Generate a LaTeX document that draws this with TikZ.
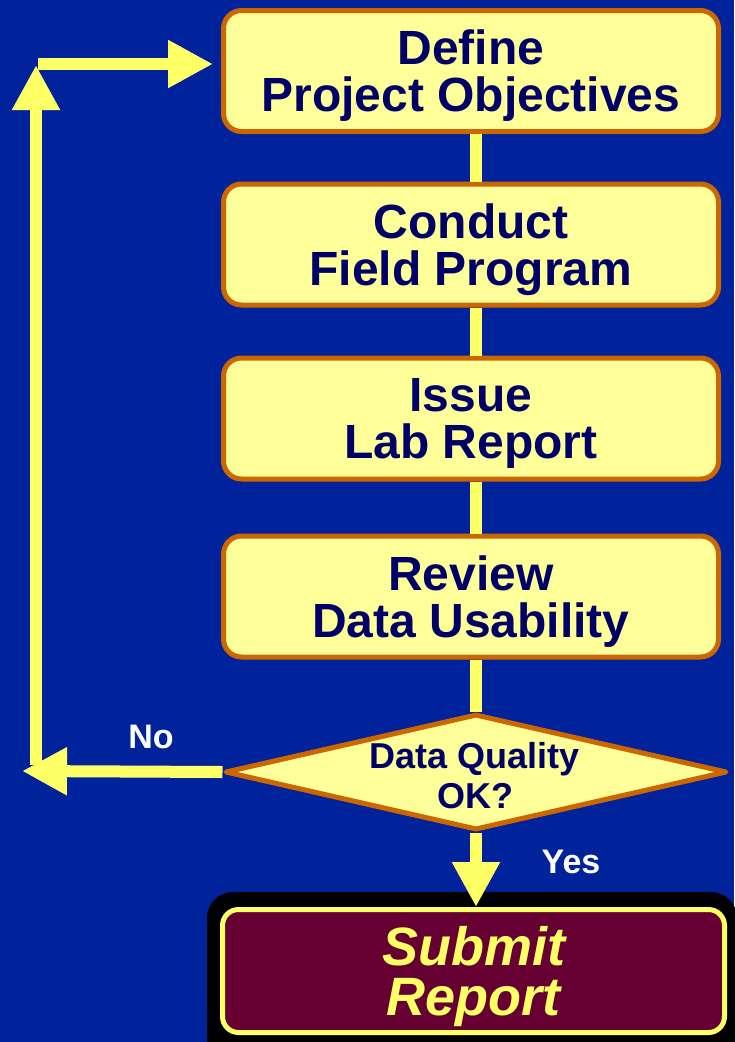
\documentclass[tikz,border=0pt]{standalone}
\usepackage{fontspec}
\setmainfont{Liberation Sans}
\usetikzlibrary{arrows.meta,shapes.geometric}
\definecolor{bgblue}{HTML}{00239C}
\definecolor{boxfill}{HTML}{FFFF99}
\definecolor{boxedge}{HTML}{CC6600}
\definecolor{navy}{HTML}{000066}
\definecolor{flow}{HTML}{FFFF66}
\definecolor{wine}{HTML}{660033}

\begin{document}
\begin{tikzpicture}[x=1pt,y=-1pt,
  stepbox/.style={draw=boxedge, fill=boxfill, line width=5pt,
    rounded corners=18pt, minimum width=495pt, minimum height=121pt,
    inner sep=0pt, align=center, text=navy, text depth=0pt,
    font=\fontsize{48}{47}\selectfont\bfseries},
  link/.style={draw=flow, line width=12pt},
  flowarrow/.style={link, -{Triangle[width=45pt,length=45pt]}},
  answer/.style={text=white, font=\fontsize{34}{34}\selectfont\bfseries}
]
% page background
\fill[bgblue] (0,0) rectangle (734,1042);
\useasboundingbox (0,0) rectangle (734,1042);

% process steps
\node[stepbox] (define)  at (471,71)    {Define\\Project Objectives};
\node[stepbox] (conduct) at (471,244.5) {Conduct\\Field Program};
\node[stepbox] (issue)   at (471,418.5) {Issue\\Lab Report};
\node[stepbox] (review)  at (471,596.5) {Review\\Data Usability};

% decision
\node[draw=boxedge, fill=boxfill, line width=5pt, shape=diamond,
  minimum width=502pt, minimum height=116pt, inner sep=0pt,
  line join=round] (dq) at (476,772) {};
\node[text=navy, align=center, text depth=0pt,
  font=\fontsize{36}{40}\selectfont\bfseries]
  (dqtext) at (475,775) {Data Quality\\OK?};

% final step with its dark backing
\fill[black, rounded corners=26pt] (207,892) rectangle (737,1065);
\node[draw=flow, fill=wine, line width=5pt, rounded corners=16pt,
  minimum width=502pt, minimum height=123pt, inner sep=0pt,
  align=center, text=flow, text depth=0pt,
  font=\fontsize{54}{50}\selectfont\bfseries\itshape]
  (submit) at (473.5,971) {Submit\\Report};

% vertical connectors between steps
\draw[link] (define.south -| dq.north)  -- (conduct.north -| dq.north);
\draw[link] (conduct.south -| dq.north) -- (issue.north -| dq.north);
\draw[link] (issue.south -| dq.north)   -- (review.north -| dq.north);
\draw[link] (review.south -| dq.north)  -- (dq.north);

% yes branch
\draw[flowarrow] (dq.south) -- (dq.south |- submit.north);
\node[answer] (yes) at (571,862) {Yes};

% no branch: loop back to the first step
\coordinate (noend)   at (22,771);
\coordinate (loopbot) at (36,765);
\coordinate (looptop) at (36,65);
\coordinate (turn)    at (38,64);
\coordinate (backin)  at (213,64);
\draw[flowarrow] (dq.west) -- (noend);
\draw[flowarrow] (loopbot) -- (looptop);
\draw[flowarrow] (turn) -- (backin);
\node[answer] (no) at (151,737) {No};
\end{tikzpicture}
\end{document}
